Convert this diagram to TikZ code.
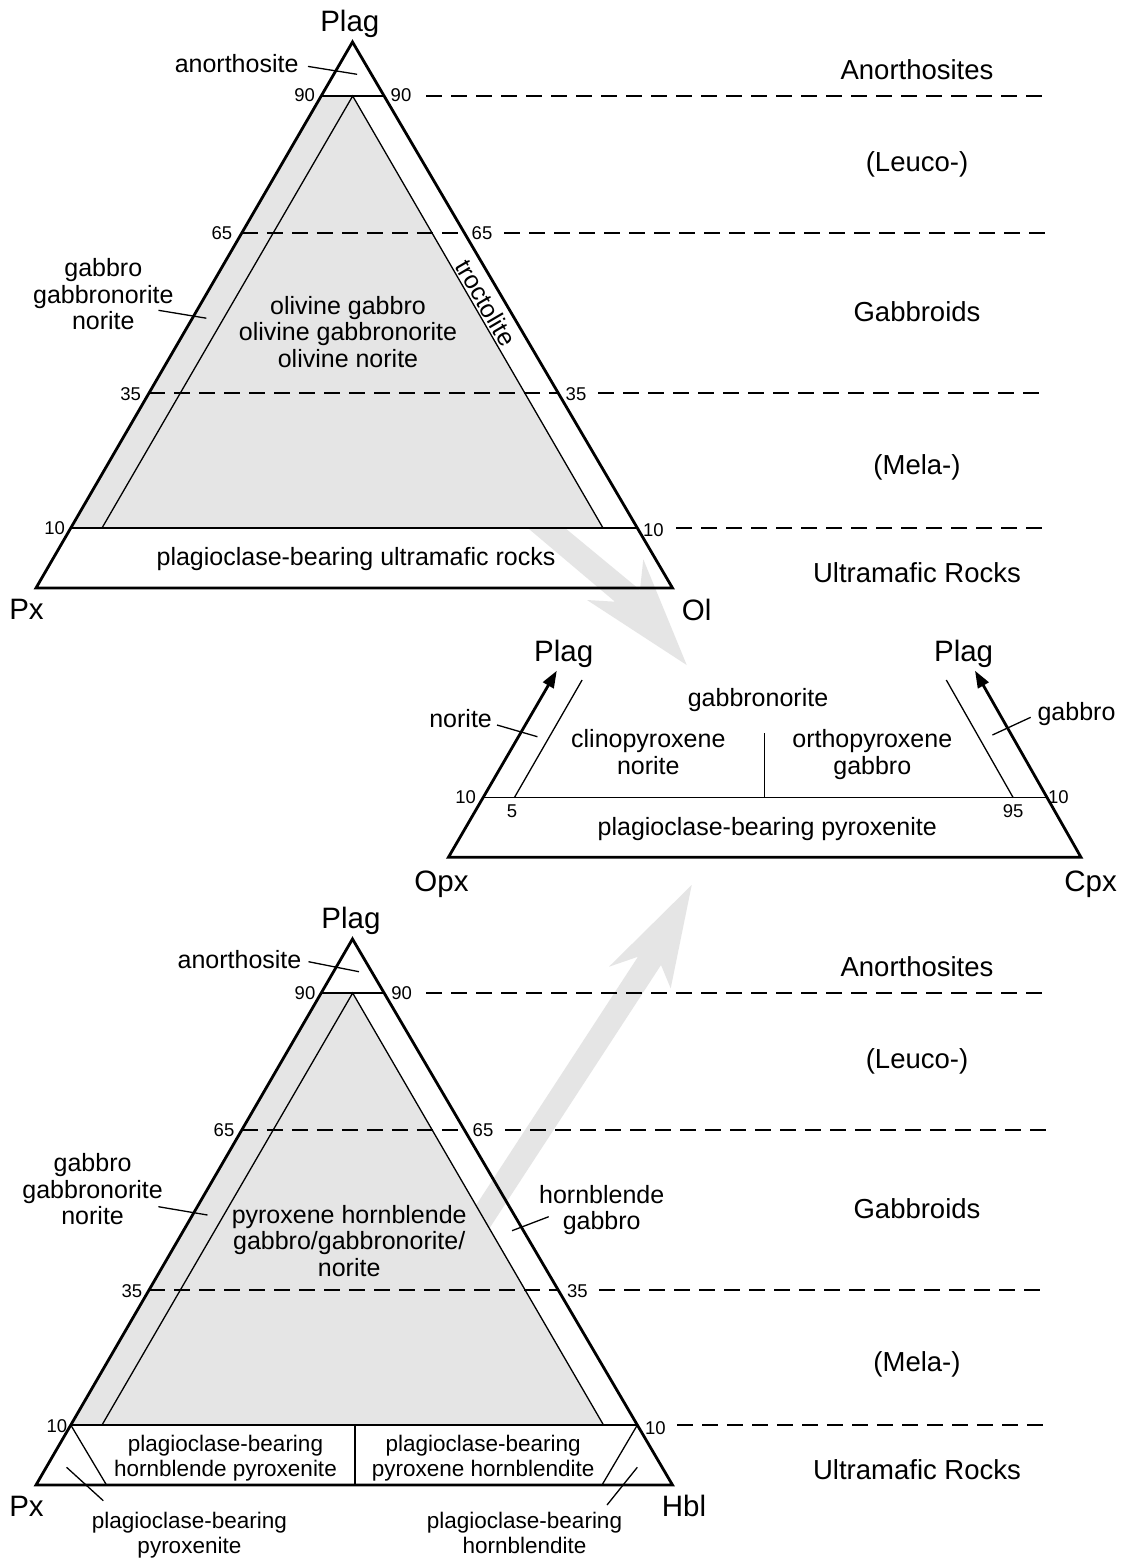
\documentclass[tikz,border=0pt]{standalone}
\usepackage{fontspec}
\setmainfont{Liberation Sans}
\usetikzlibrary{calc,arrows.meta}
\definecolor{fillg}{gray}{0.9}
\begin{document}
\begin{tikzpicture}[x=1pt,y=-1pt,
  outer/.style={line width=2.8pt, line join=miter},
  thinln/.style={line width=1.3pt},
  level/.style={line width=1.7pt},
  dashlev/.style={line width=1.8pt, dash pattern=on 16pt off 9pt},
  leader/.style={line width=1.3pt},
  corner/.style={font=\fontsize{29.5}{34}\selectfont, inner sep=0pt, anchor=base},
  txt/.style={font=\fontsize{25}{26.6}\selectfont, inner sep=0pt, align=center, anchor=base},
  smalltxt/.style={font=\fontsize{22.5}{25}\selectfont, inner sep=0pt, align=center, anchor=base},
  num/.style={font=\fontsize{18.5}{21}\selectfont, inner sep=0pt},
  side/.style={font=\fontsize{27.5}{32}\selectfont, inner sep=0pt, anchor=base},
  grayarrow/.style={fill=fillg, draw=none},
]
\useasboundingbox[fill=white] (0,0) rectangle (1123,1558);

% ---------- geometry: top triangle
\coordinate (TL) at (36,588);
\coordinate (TR) at (672.5,588);
\coordinate (TA) at (352.5,42);
\foreach \n/\t in {90/0.9011,65/0.6502,35/0.3571,10/0.1099} {
  \coordinate (TL\n) at ($(TL)!\t!(TA)$);
  \coordinate (TR\n) at ($(TR)!\t!(TA)$);
}
\coordinate (TI) at ($(TL90)!0.5!(TR90)$);
\coordinate (TIL) at (102,528);
\coordinate (TIR) at (603,528);

% ---------- geometry: bottom triangle
\coordinate (BL) at (36,1485);
\coordinate (BR) at (672.5,1485);
\coordinate (BA) at (352.5,939);
\foreach \n/\t in {90/0.9011,65/0.6502,35/0.3571,10/0.1099} {
  \coordinate (BL\n) at ($(BL)!\t!(BA)$);
  \coordinate (BR\n) at ($(BR)!\t!(BA)$);
}
\coordinate (BI) at ($(BL90)!0.5!(BR90)$);
\coordinate (BIL) at (102,1425);
\coordinate (BIR) at (603.5,1425);
\coordinate (BSL) at (106.5,1485);
\coordinate (BSR) at (602,1485);
\coordinate (BDT) at (355,1425);
\coordinate (BDB) at (355,1485);

% ---------- gray fills
\fill[fillg] (TL90) -- (TI) -- (TIR) -- (TL10) -- cycle;
\fill[fillg] (BL90) -- (BI) -- (BIR) -- (BL10) -- cycle;

% ---------- gray arrows
\coordinate (ga1) at (471,480);
\coordinate (ga2) at (615,601.7);
\coordinate (ga3) at (587,600);
\coordinate (ga4) at (686.7,665);
\coordinate (ga5) at (643.3,559.3);
\coordinate (ga6) at (640,590);
\coordinate (ga7) at (507,480);
\fill[grayarrow] (ga1) -- (ga2) -- (ga3) -- (ga4) -- (ga5) -- (ga6) -- (ga7) -- cycle;

\coordinate (gb1) at (414.3,1300);
\coordinate (gb2) at (638,956.7);
\coordinate (gb3) at (609,966.7);
\coordinate (gb4) at (691.7,885);
\coordinate (gb5) at (670.7,988.3);
\coordinate (gb6) at (661,965);
\coordinate (gb7) at (442.7,1300);
\fill[grayarrow] (gb1) -- (gb2) -- (gb3) -- (gb4) -- (gb5) -- (gb6) -- (gb7) -- cycle;

% ---------- top triangle lines
\draw[thinln] (TIL) -- (TI) -- (TIR);
\draw[dashlev] (TL65) -- (TR65);
\draw[dashlev] (TL35) -- (TR35);
\draw[level] (TL90) -- (TR90);
\draw[level] (TL10) -- (TR10);
\draw[outer] (TL) -- (TA) -- (TR) -- cycle;

% ---------- bottom triangle lines
\draw[thinln] (BIL) -- (BI) -- (BIR);
\draw[thinln] (BL10) -- (BSL);
\draw[thinln] (BR10) -- (BSR);
\draw[thinln] (BDT) -- (BDB);
\draw[dashlev] (BL65) -- (BR65);
\draw[dashlev] (BL35) -- (BR35);
\draw[level] (BL90) -- (BR90);
\draw[level] (BL10) -- (BR10);
\draw[outer] (BL) -- (BA) -- (BR) -- cycle;

% ---------- outside dashed level lines
\coordinate (TO90a) at (426,96);  \coordinate (TO90b) at (1050,96);
\coordinate (TO65a) at (504,233); \coordinate (TO65b) at (1052,233);
\coordinate (TO35a) at (598,393); \coordinate (TO35b) at (1045,393);
\coordinate (TO10a) at (676,528); \coordinate (TO10b) at (1047,528);
\draw[dashlev] (TO90a) -- (TO90b);
\draw[dashlev] (TO65a) -- (TO65b);
\draw[dashlev] (TO35a) -- (TO35b);
\draw[dashlev] (TO10a) -- (TO10b);
\coordinate (BO90a) at (426,993);  \coordinate (BO90b) at (1050,993);
\coordinate (BO65a) at (505,1130); \coordinate (BO65b) at (1052,1130);
\coordinate (BO35a) at (599,1290); \coordinate (BO35b) at (1045,1290);
\coordinate (BO10a) at (677,1425); \coordinate (BO10b) at (1047,1425);
\draw[dashlev] (BO90a) -- (BO90b);
\draw[dashlev] (BO65a) -- (BO65b);
\draw[dashlev] (BO35a) -- (BO35b);
\draw[dashlev] (BO10a) -- (BO10b);

% ---------- middle diagram
\coordinate (OB) at (448.4,857.3);
\coordinate (CB) at (1081,857.3);
\coordinate (OT) at (556.8,670.7);
\coordinate (CT) at (975,670.7);
\coordinate (M10L) at ($(OB)!0.3194!(OT)$);
\coordinate (M10R) at ($(CB)!0.3194!(CT)$);
\coordinate (MlA) at (514.3,797.7);
\coordinate (MlB) at (582.1,680);
\coordinate (MrA) at (1013.2,797.7);
\coordinate (MrB) at (946.3,680);
\coordinate (MdT) at (764.2,733.3);
\coordinate (MdB) at (764.2,797.7);
\draw[line width=1.5pt] (M10L) -- (M10R);
\draw[thinln] (MlA) -- (MlB);
\draw[thinln] (MrA) -- (MrB);
\draw[thinln] (MdT) -- (MdB);
\draw[outer, {Triangle[length=17pt,width=12pt]}-{Triangle[length=17pt,width=12pt]}] (OT) -- (OB) -- (CB) -- (CT);

% ---------- top triangle texts (multi-line nodes: base = last line)
\node[corner] (tplag) at (349.8,31.6) {Plag};
\node[corner] (tpx) at (26.5,619.7) {Px};
\node[corner] (tol) at (696.7,620) {Ol};
\node[txt] (tanor) at (236.6,72.3) {anorthosite};
\coordinate (tanorA) at (308,66.4); \coordinate (tanorB) at (357.1,74.3);
\draw[leader] (tanorA) -- (tanorB);
\node[txt] (tgab) at (103.3,329.9) {gabbro\\gabbronorite\\norite};
\coordinate (tgabA) at (158.5,310.3); \coordinate (tgabB) at (206.3,318.2);
\draw[leader] (tgabA) -- (tgabB);
\node[txt] (toliv) at (348,367.4) {olivine gabbro\\olivine gabbronorite\\olivine norite};
\node[font=\fontsize{25}{26.6}\selectfont, inner sep=0pt, rotate=-59.6] (ttroc) at (486,303) {troctolite};
\node[txt] (tultra) at (356,565.2) {plagioclase-bearing ultramafic rocks};
\node[num] (tn90l) at (304.7,95) {90};
\node[num] (tn90r) at (401,95) {90};
\node[num] (tn65l) at (222,233) {65};
\node[num] (tn65r) at (482,233) {65};
\node[num] (tn35l) at (130.6,394) {35};
\node[num] (tn35r) at (576,394) {35};
\node[num] (tn10l) at (54.7,528.5) {10};
\node[num] (tn10r) at (653.3,530) {10};

% ---------- right side labels (top)
\node[side] (tsAn) at (917,79) {Anorthosites};
\node[side] (tsLe) at (917,171) {(Leuco-)};
\node[side] (tsGa) at (917,321.5) {Gabbroids};
\node[side] (tsMe) at (917,474.5) {(Mela-)};
\node[side] (tsUl) at (917,582) {Ultramafic Rocks};

% ---------- middle texts
\node[corner] (mplagl) at (563.7,661.7) {Plag};
\node[corner] (mplagr) at (963.6,661.7) {Plag};
\node[corner] (mopx) at (441.5,891.7) {Opx};
\node[corner] (mcpx) at (1090.6,891.7) {Cpx};
\node[txt] (mgn) at (758,706) {gabbronorite};
\node[txt] (mcpn) at (648.3,774.3) {clinopyroxene\\norite};
\node[txt] (mopg) at (872.3,774.3) {orthopyroxene\\gabbro};
\node[txt] (mnor) at (460.6,727.7) {norite};
\coordinate (mnorA) at (497,725); \coordinate (mnorB) at (537.4,736.7);
\draw[leader] (mnorA) -- (mnorB);
\node[txt] (mgab) at (1076.5,720.7) {gabbro};
\coordinate (mgabA) at (1030.7,717.3); \coordinate (mgabB) at (992.4,735);
\draw[leader] (mgabA) -- (mgabB);
\node[num] (mn10l) at (465.7,796.7) {10};
\node[num] (mn5) at (512,811) {5};
\node[num] (mn95) at (1013.2,811) {95};
\node[num] (mn10r) at (1058.4,796.7) {10};
\node[txt] (mpyx) at (767.2,835) {plagioclase-bearing pyroxenite};

% ---------- bottom triangle texts
\node[corner] (bplag) at (351,928.3) {Plag};
\node[corner] (bpx) at (26.5,1516.7) {Px};
\node[corner] (bhbl) at (684,1516.7) {Hbl};
\node[txt] (banor) at (239.5,968.3) {anorthosite};
\coordinate (banorA) at (308.5,961.7); \coordinate (banorB) at (359,971.7);
\draw[leader] (banorA) -- (banorB);
\node[txt] (bgab) at (92.6,1224.9) {gabbro\\gabbronorite\\norite};
\coordinate (bgabA) at (158.4,1206.7); \coordinate (bgabB) at (207.5,1215);
\draw[leader] (bgabA) -- (bgabB);
\node[txt] (bpyh) at (349.2,1276.5) {pyroxene hornblende\\gabbro/gabbronorite/\\norite};
\node[txt] (bhg) at (601.7,1229.9) {hornblende\\gabbro};
\coordinate (bhgA) at (548.7,1216.7); \coordinate (bhgB) at (512,1230.7);
\draw[leader] (bhgA) -- (bhgB);
\node[smalltxt] (bhp) at (225.5,1476.7) {plagioclase-bearing\\hornblende pyroxenite};
\node[smalltxt] (bph) at (483.2,1476.7) {plagioclase-bearing\\pyroxene hornblendite};
\node[smalltxt] (bpp) at (189.4,1553.3) {plagioclase-bearing\\pyroxenite};
\coordinate (bppA) at (66.6,1467.3); \coordinate (bppB) at (103.3,1500.7);
\draw[leader] (bppA) -- (bppB);
\node[smalltxt] (bphb) at (524.5,1553.3) {plagioclase-bearing\\hornblendite};
\coordinate (bphbA) at (637.3,1467.3); \coordinate (bphbB) at (607,1505);
\draw[leader] (bphbA) -- (bphbB);
\node[num] (bn90l) at (305,993.3) {90};
\node[num] (bn90r) at (401.6,993) {90};
\node[num] (bn65l) at (224,1130) {65};
\node[num] (bn65r) at (483,1130) {65};
\node[num] (bn35l) at (132,1291) {35};
\node[num] (bn35r) at (577.4,1291) {35};
\node[num] (bn10l) at (57,1425.7) {10};
\node[num] (bn10r) at (655.4,1428) {10};

% ---------- right side labels (bottom)
\node[side] (bsAn) at (917,976) {Anorthosites};
\node[side] (bsLe) at (917,1068) {(Leuco-)};
\node[side] (bsGa) at (917,1218.5) {Gabbroids};
\node[side] (bsMe) at (917,1371.5) {(Mela-)};
\node[side] (bsUl) at (917,1479) {Ultramafic Rocks};
\end{tikzpicture}
\end{document}
